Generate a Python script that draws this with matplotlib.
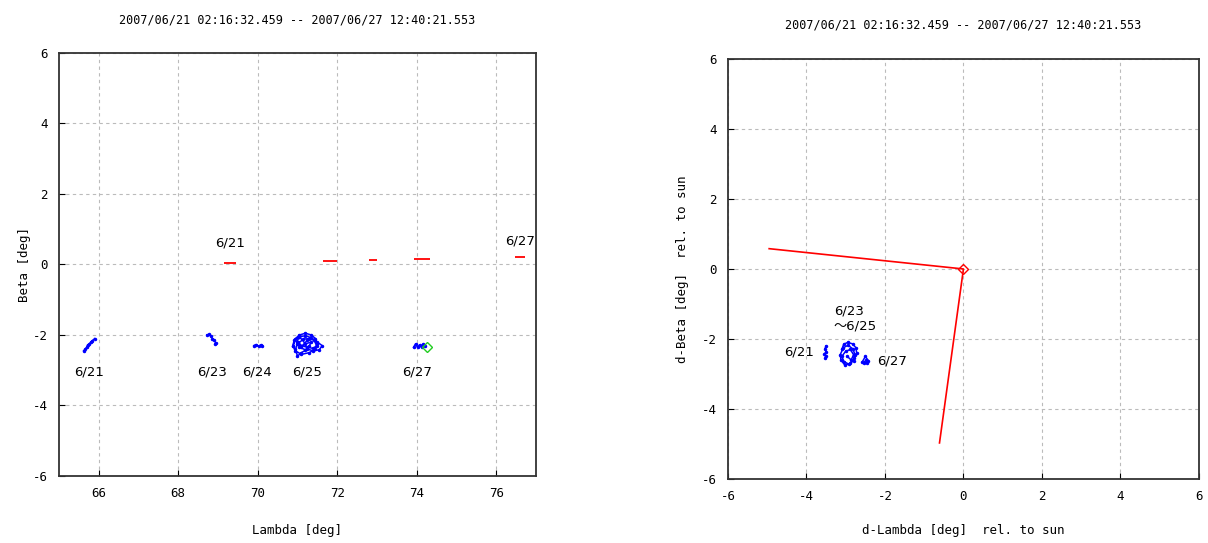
import numpy as np
import matplotlib.pyplot as plt

plt.rcParams['font.family'] = ['DejaVu Sans Mono', 'Noto Sans CJK JP']
plt.rcParams['axes.unicode_minus'] = False

title = "2007/06/21 02:16:32.459 -- 2007/06/27 12:40:21.553"

# left panel: blue tracks (Lambda, Beta)
x21 = [65.62, 65.66, 65.70, 65.72, 65.76, 65.80, 65.84, 65.90]
y21 = [-2.45, -2.40, -2.34, -2.28, -2.26, -2.20, -2.16, -2.10]
x23 = [68.72, 68.78, 68.82, 68.86, 68.90, 68.94, 68.92]
y23 = [-2.00, -1.98, -2.04, -2.10, -2.14, -2.22, -2.26]
x24 = [69.90, 69.96, 70.02, 70.08, 70.12]
y24 = [-2.30, -2.27, -2.32, -2.28, -2.30]
x25 = [70.90, 70.95, 71.05, 71.20, 71.35, 71.45, 71.50, 71.45, 71.30, 71.10, 70.95, 70.88,
       70.92, 71.05, 71.20, 71.35, 71.50, 71.62, 71.55, 71.40, 71.25, 71.10, 71.00, 70.95,
       71.00, 71.15, 71.30, 71.42, 71.48, 71.40, 71.25, 71.10, 71.02, 71.05, 71.20, 71.30,
       71.35, 71.20, 71.05, 70.98, 71.08, 71.25]
y25 = [-2.30, -2.10, -2.00, -1.95, -2.00, -2.10, -2.25, -2.40, -2.50, -2.55, -2.45, -2.30,
       -2.15, -2.05, -2.02, -2.08, -2.20, -2.30, -2.42, -2.45, -2.40, -2.50, -2.60, -2.40,
       -2.25, -2.12, -2.10, -2.15, -2.30, -2.38, -2.35, -2.30, -2.20, -2.35, -2.42, -2.30,
       -2.20, -2.25, -2.05, -2.20, -2.35, -2.15]
x27 = [73.92, 73.97, 74.02, 74.07, 74.12, 74.17, 74.22]
y27 = [-2.35, -2.25, -2.35, -2.28, -2.35, -2.25, -2.30]
green_pt = (74.26, -2.34)

# left panel: red sun positions
red_x0 = [69.15, 71.65, 72.80, 73.93, 76.48]
red_x1 = [69.45, 72.00, 73.00, 74.33, 76.73]
red_y = [0.04, 0.10, 0.13, 0.16, 0.22]

# right panel (relative to sun)
sun_line_x = [-4.95, 0.0, -0.61]
sun_line_y = [0.58, 0.0, -4.97]
rx21 = [-3.50, -3.53, -3.50, -3.54, -3.51, -3.52]
ry21 = [-2.20, -2.28, -2.36, -2.44, -2.50, -2.54]
rxb = [-3.10, -3.05, -2.95, -2.82, -2.74, -2.72, -2.78, -2.88, -3.02, -3.12, -3.14, -3.06,
       -2.94, -2.82, -2.76, -2.80, -2.92, -3.04, -3.10, -3.00, -2.88, -2.80, -2.86, -2.96]
ryb = [-2.30, -2.15, -2.10, -2.14, -2.25, -2.40, -2.55, -2.70, -2.75, -2.60, -2.45, -2.25,
       -2.18, -2.28, -2.45, -2.62, -2.72, -2.65, -2.50, -2.35, -2.30, -2.45, -2.60, -2.50]
rx27 = [-2.58, -2.50, -2.42, -2.46, -2.54, -2.48]
ry27 = [-2.66, -2.50, -2.62, -2.68, -2.68, -2.60]

fig = plt.figure(figsize=(12.08, 5.43), dpi=100)
ax1 = fig.add_axes([0.0488, 0.1234, 0.3949, 0.7790])
ax2 = fig.add_axes([0.6026, 0.1179, 0.3899, 0.7735])


def style(ax):
    ax.grid(True, ls=(0, (3, 3)), color='#bbbbbb', lw=0.8)
    ax.tick_params(direction='in', length=4, labelsize=9, pad=8)
    for s in ax.spines.values():
        s.set_linewidth(1.3)
        s.set_color('#333333')


kw = dict(color='blue', lw=1.1, marker='.', ms=3)
for xs, ys in [(x21, y21), (x23, y23), (x24, y24), (x25, y25), (x27, y27)]:
    ax1.plot(xs, ys, **kw)
ax1.plot(*green_pt, marker='D', mfc='none', mec='#22cc22', ms=5)
ax1.hlines(red_y, red_x0, red_x1, color='red', lw=1.3)
ax1.set_xlim(65, 77)
ax1.set_ylim(-6, 6)
ax1.set_xticks(np.arange(66, 77, 2))
ax1.set_yticks(np.arange(-6, 7, 2))
style(ax1)
ax1.set_title(title, fontsize=8.5, pad=21)
ax1.set_xlabel("Lambda [deg]", fontsize=9, labelpad=17)
ax1.set_ylabel("Beta [deg]", fontsize=9, labelpad=1)
for tx, ty, s in [(65.75, -3.05, "6/21"), (68.85, -3.05, "6/23"), (69.98, -3.05, "6/24"),
                  (71.25, -3.05, "6/25"), (74.0, -3.05, "6/27"), (69.3, 0.62, "6/21"),
                  (76.6, 0.68, "6/27")]:
    ax1.text(tx, ty, s, fontsize=9.5, ha='center', va='center', family=['DejaVu Sans', 'Noto Sans CJK JP'])

ax2.plot(sun_line_x, sun_line_y, color='red', lw=1.2)
ax2.plot(0, 0, marker='D', mfc='none', mec='red', ms=5)
for xs, ys in [(rx21, ry21), (rxb, ryb), (rx27, ry27)]:
    ax2.plot(xs, ys, **kw)
ax2.set_xlim(-6, 6)
ax2.set_ylim(-6, 6)
ax2.set_xticks(np.arange(-6, 7, 2))
ax2.set_yticks(np.arange(-6, 7, 2))
style(ax2)
ax2.set_title(title, fontsize=8.5, pad=22)
ax2.set_xlabel("d-Lambda [deg]  rel. to sun", fontsize=9, labelpad=15)
ax2.set_ylabel("d-Beta [deg]  rel. to sun", fontsize=9, labelpad=9)
for tx, ty, s, ha in [(-4.18, -2.37, "6/21", 'center'), (-1.83, -2.63, "6/27", 'center'),
                      (-3.3, -1.2, "6/23", 'left'), (-3.3, -1.63, "～6/25", 'left')]:
    ax2.text(tx, ty, s, fontsize=9.5, ha=ha, va='center', family=['DejaVu Sans', 'Noto Sans CJK JP'])

fig.savefig("out.png", dpi=100)
